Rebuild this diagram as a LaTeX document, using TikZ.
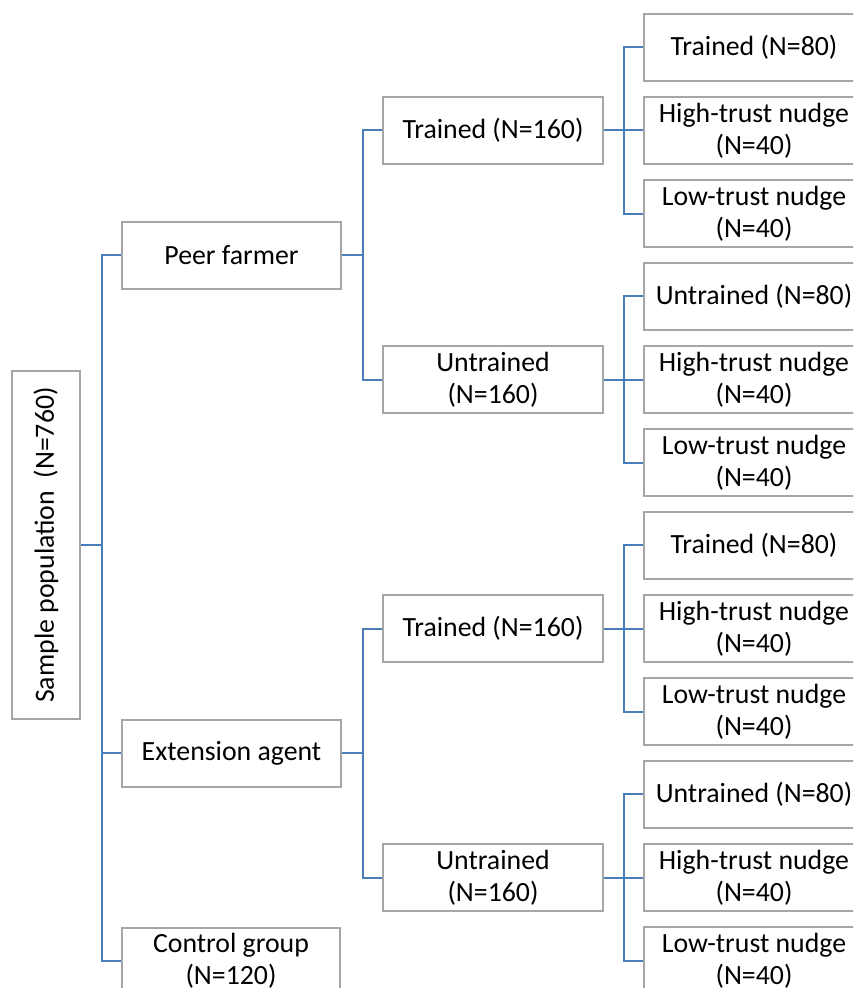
\documentclass[tikz,border=0pt]{standalone}
\usepackage{fontspec}
\setmainfont{Carlito}
\definecolor{linkblue}{HTML}{4A7EBB}
\definecolor{boxgray}{HTML}{A6A6A6}
\begin{document}
\begin{tikzpicture}[
  x=0.5pt, y=-0.5pt,
  box/.style={draw=boxgray, line width=1pt, fill=white, align=center,
              minimum width=110pt, minimum height=33.5pt, inner sep=2pt,
              font=\fontsize{13.9}{16}\selectfont},
  link/.style={draw=linkblue, line width=1pt},
  ]

\useasboundingbox (0,0) rectangle (853,988);
\clip (0,0) rectangle (853,988);

% ---- Root ------------------------------------------------------------------
\node[box, rotate=90, minimum width=174pt, minimum height=34pt]
  (pop) at (46,545) {Sample population\ \ (N=760)};

% ---- First split -----------------------------------------------------------
\node[box, minimum width=109.5pt] (peer) at (231.5,255.5) {Peer farmer};
\node[box, minimum width=109.5pt] (ext)  at (231.5,753)   {Extension agent};
\node[box, minimum width=109pt]   (ctrl) at (231,961)     {Control group\\(N=120)};

\foreach \c in {peer, ext, ctrl}
  \draw[link] (pop.south) -- ++(21,0) |- (\c.west);

% ---- Training split --------------------------------------------------------
\node[box] (pt) at (493,130.5) {Trained (N=160)};
\node[box] (pu) at (493,379.5) {Untrained\\(N=160)};
\node[box] (et) at (493,628.5) {Trained (N=160)};
\node[box] (eu) at (493,877.5) {Untrained\\(N=160)};

\draw[link] (peer.east) -- ++(21,0) |- (pt.west);
\draw[link] (peer.east) -- ++(21,0) |- (pu.west);
\draw[link] (ext.east)  -- ++(21,0) |- (et.west);
\draw[link] (ext.east)  -- ++(21,0) |- (eu.west);

% ---- Nudge split -----------------------------------------------------------
\foreach \p/\y/\first in {pt/130.5/Trained (N=80), pu/379.5/Untrained (N=80),
                          et/628.5/Trained (N=80), eu/877.5/Untrained (N=80)} {
  \node[box] (\p a) at (754,\y-83.3) {\first};
  \node[box] (\p b) at (754,\y)      {High-trust nudge\\(N=40)};
  \node[box] (\p c) at (754,\y+83.3) {Low-trust nudge\\(N=40)};
  \foreach \c in {a,b,c}
    \draw[link] (\p.east) -- ++(20,0) |- (\p\c.west);
}

\end{tikzpicture}
\end{document}
